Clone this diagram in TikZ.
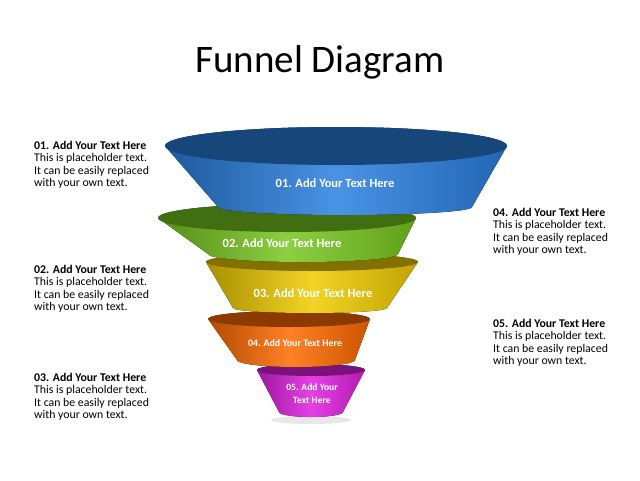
\documentclass[tikz,border=0pt]{standalone}
\usepackage{fontspec}
\setmainfont{Carlito}
\begin{document}
\begin{tikzpicture}[x=1pt,y=-1pt,
  side/.style={font=\fontsize{11.8}{12.3}\selectfont,align=left,anchor=north west,inner sep=0pt},
  seglabel/.style={text=white,font=\bfseries\fontsize{12.5}{13}\selectfont,align=center}]
\useasboundingbox[fill=white] (0,0) rectangle (640,480);
\newcommand\funnelseg[9]{%
  \fill[left color=#9!70!black,right color=#9!80!black,middle color=#9!85!white,shading angle=90]
    (#1-#3,#2) arc[start angle=180,end angle=360,x radius=#3,y radius=#4]
    -- (#5+#7,#6) arc[start angle=0,end angle=180,x radius=#7,y radius=#8] -- cycle;
  \fill[#9!55!black] (#1,#2) ellipse[x radius=#3,y radius=#4];
}
\node[font=\fontsize{39}{42}\selectfont] (title) at (320,62) {Funnel Diagram};
\fill[gray!25,opacity=0.7] (311,420) ellipse[x radius=40,y radius=4];
\definecolor{cmag}{HTML}{E020E0}
\definecolor{corg}{HTML}{FF6A00}
\definecolor{cyel}{HTML}{F0CC00}
\definecolor{cgrn}{HTML}{78C820}
\definecolor{cblu}{HTML}{2A7FE0}
\funnelseg{311}{370}{54}{6}{311}{412}{32}{5}{cmag}
\funnelseg{289}{319}{81}{8}{296}{360}{59}{7}{corg}
\funnelseg{312}{262}{106}{9}{310}{308}{77}{5}{cyel}
\funnelseg{287}{218}{129}{14}{303}{254}{95}{8}{cgrn}
\funnelseg{336}{146}{171}{19}{345}{207}{127}{8}{cblu}
\node[seglabel] (s1) at (335,183) {01. Add Your Text Here};
\node[seglabel] (s2) at (282,243) {02. Add Your Text Here};
\node[seglabel] (s3) at (313,293) {03. Add Your Text Here};
\node[seglabel,font=\bfseries\fontsize{9.9}{11}\selectfont] (s4) at (295,343) {04. Add Your Text Here};
\node[seglabel,font=\bfseries\fontsize{9.6}{13}\selectfont] (s5) at (312,394) {05. Add Your\\Text Here};
\node[side] (t1) at (34,141) {\textbf{01. Add Your Text Here}\\This is placeholder text.\\It can be easily replaced\\with your own text.};
\node[side] (t2) at (34,265) {\textbf{02. Add Your Text Here}\\This is placeholder text.\\It can be easily replaced\\with your own text.};
\node[side] (t3) at (34,373) {\textbf{03. Add Your Text Here}\\This is placeholder text.\\It can be easily replaced\\with your own text.};
\node[side] (t4) at (493,208) {\textbf{04. Add Your Text Here}\\This is placeholder text.\\It can be easily replaced\\with your own text.};
\node[side] (t5) at (493,319) {\textbf{05. Add Your Text Here}\\This is placeholder text.\\It can be easily replaced\\with your own text.};
\end{tikzpicture}
\end{document}
